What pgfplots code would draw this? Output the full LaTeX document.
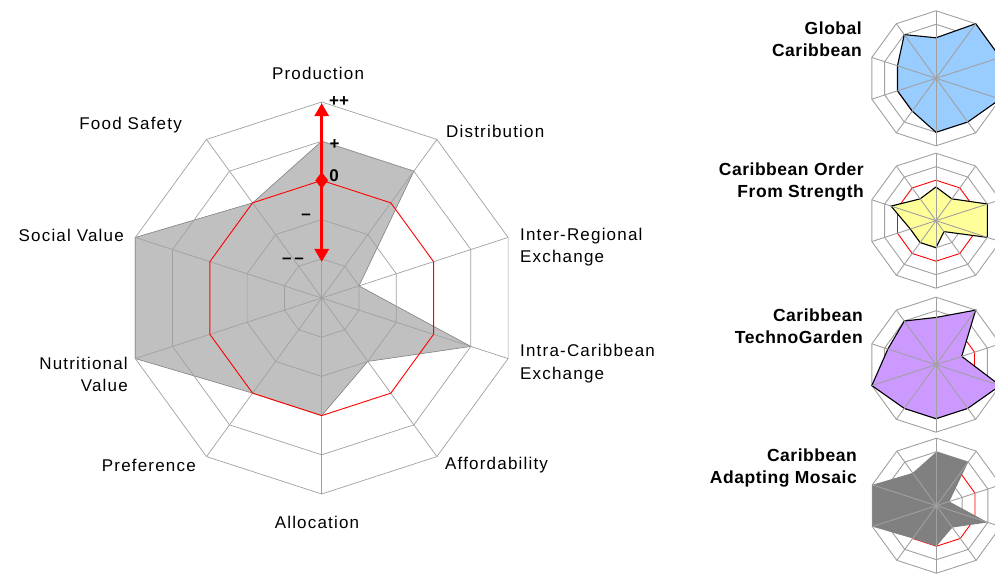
\documentclass[border=0pt]{standalone}
\usepackage{fontspec}
\setmainfont{Liberation Sans}
\newfontfamily\labelfont{Liberation Sans}[LetterSpace=7]
\newfontfamily\titlefont{Liberation Sans}[LetterSpace=3]
\usepackage{pgfplots}
\usepackage{pgfplotstable}
\pgfplotsset{compat=1.18}
\usetikzlibrary{arrows.meta}

\definecolor{gridgray}{HTML}{A0A0A0}
\definecolor{maingray}{HTML}{C0C0C0}
\definecolor{gcblue}{HTML}{99CCFF}
\definecolor{ofsyellow}{HTML}{FFFF99}
\definecolor{tgpurple}{HTML}{CC99FF}
\definecolor{amgray}{HTML}{808080}

% scores (0 = centre, 3 = "0" ring), clockwise from Production at 90 deg:
% Production, Distribution, Inter-Regional, Intra-Caribbean, Affordability,
% Allocation, Preference, Nutritional Value, Social Value, Food Safety
\pgfplotstableread{
angle main global order techno mosaic
90    4    3      2.5   3.5    4
54    4    5      2     5      4
18    1    5      4     2      1
-18   4    5      4     5      4
-54   2    4      1     4      2
-90   3    4      2     4      3
-126  3    3      2     4      3
-162  5    3      2     5      5
162   5    3      3.5   3.75   5
126   3    4      2     4      3
90    4    3      2.5   3.5    4
}\scores

\pgfplotsset{
  radar/.style={hide axis, data cs=polar, clip=false, anchor=center,
    xmin=-5.2, xmax=5.2, ymin=-5.2, ymax=5.2},
}
\newcommand{\ring}[2][gridgray]{%
  \addplot[#1] coordinates {(90,#2)(54,#2)(18,#2)(-18,#2)(-54,#2)(-90,#2)
    (-126,#2)(-162,#2)(162,#2)(126,#2)(90,#2)};}
\newcommand{\spokes}[1]{%
  \pgfplotsinvokeforeach{90,54,18,-18,-54,-90,-126,-162,162,126}{%
    \addplot[#1] coordinates {(##1,0)(##1,5)};}}

\begin{document}
\begin{tikzpicture}
\useasboundingbox (0,0) rectangle (995pt,574pt);
\clip (0,0) rectangle (995pt,574pt);

% ---- main chart
\begin{axis}[radar, x=39.2pt, y=39.2pt, at={(321.7pt,276pt)}]
  \addplot[fill=maingray, draw=gray, line width=0.6pt] table[x=angle,y=main]{\scores};
  \pgfplotsinvokeforeach{1,2,4,5}{\ring[gridgray, line width=0.7pt]{#1}}
  \spokes{gridgray, line width=0.7pt}
  \ring[red, line width=0.9pt]{3}
  \addplot[red, line width=3.5pt,
    {Triangle[length=13pt,width=14pt]}-{Triangle[length=13pt,width=14pt]}]
    coordinates {(90,0.92)(90,4.97)};
  \addplot[red, only marks, mark=diamond*, mark size=8pt,
    mark options={line width=0.5pt}] coordinates {(90,3)};
\end{axis}

\begin{scope}[every node/.style={inner sep=0pt, font=\labelfont\fontsize{17}{22.5}\selectfont}]
  \node[anchor=center] at (318pt,501pt) {Production};
  \node[anchor=west] at (446pt,443pt) {Distribution};
  \node[anchor=west, align=left] at (520pt,327pt) {Inter-Regional\\Exchange};
  \node[anchor=west, align=left] at (520pt,210.5pt) {Intra-Caribbean\\Exchange};
  \node[anchor=west] at (445pt,109pt) {Affordability};
  \node[anchor=center] at (317pt,52pt) {Allocation};
  \node[anchor=east] at (196pt,109pt) {Preference};
  \node[anchor=east, align=right] at (128pt,199.5pt) {Nutritional\\Value};
  \node[anchor=east] at (124pt,339pt) {Social Value};
  \node[anchor=east] at (182pt,449pt) {Food Safety};
\end{scope}

\begin{scope}[every node/.style={inner sep=0pt, font=\bfseries\fontsize{17}{20}\selectfont}]
  \node at (339pt,472pt) {++};
  \node at (334.5pt,429pt) {+};
  \node at (334pt,398pt) {0};
  \node at (306pt,357pt) {–};
  \node at (293pt,313pt) {–\,–};
\end{scope}

% ---- scenario thumbnails
\begin{axis}[radar, x=13.5pt, y=13.5pt, at={(936pt,495.7pt)}]
  \pgfplotsinvokeforeach{1,...,5}{\ring[gridgray, line width=0.9pt]{#1}}
  \ring[red, line width=0.9pt]{3}
  \addplot[fill=gcblue, draw=black, line width=1.1pt] table[x=angle,y=global]{\scores};
  \spokes{gridgray, line width=0.9pt}
\end{axis}

\begin{axis}[radar, x=13.5pt, y=13.5pt, at={(936pt,353.3pt)}]
  \pgfplotsinvokeforeach{1,2,4,5}{\ring[gridgray, line width=0.9pt]{#1}}
  \ring[red, line width=0.9pt]{3}
  \addplot[fill=ofsyellow, draw=black, line width=1.1pt] table[x=angle,y=order]{\scores};
  \spokes{gridgray, line width=0.9pt}
\end{axis}

\begin{axis}[radar, x=13.5pt, y=13.5pt, at={(936pt,209.3pt)}]
  \pgfplotsinvokeforeach{1,2,4,5}{\ring[gridgray, line width=0.9pt]{#1}}
  \ring[red, line width=0.9pt]{3}
  \addplot[fill=tgpurple, draw=black, line width=1.1pt] table[x=angle,y=techno]{\scores};
  \spokes{gridgray, line width=0.9pt}
\end{axis}

\begin{axis}[radar, x=13.5pt, y=13.5pt, at={(936.5pt,68.3pt)}]
  \pgfplotsinvokeforeach{1,2,4,5}{\ring[gridgray, line width=0.9pt]{#1}}
  \ring[red, line width=0.9pt]{3}
  \addplot[fill=amgray, draw=none] table[x=angle,y=mosaic]{\scores};
  \spokes{gridgray, line width=0.9pt}
\end{axis}

\begin{scope}[every node/.style={inner sep=0pt, anchor=east, align=right,
    font=\titlefont\bfseries\fontsize{17.5}{22.5}\selectfont}]
  \node at (862pt,535pt) {Global\\Caribbean};
  \node at (864pt,392pt) {Caribbean Order\\From Strength};
  \node at (863pt,248pt) {Caribbean\\TechnoGarden};
  \node at (857pt,106pt) {Caribbean\\Adapting Mosaic};
\end{scope}
\end{tikzpicture}
\end{document}
